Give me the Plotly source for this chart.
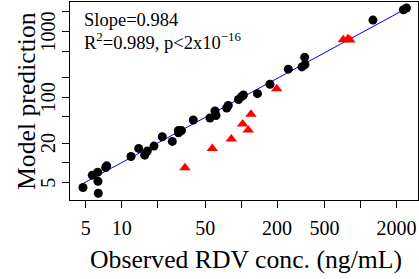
import numpy as np
import plotly.graph_objects as go

# Black circles (observed, predicted)
obs_black = [4.74, 5.67, 6.30, 6.33, 6.37, 7.35, 7.49, 11.97, 13.88, 15.58, 16.38, 18.64,
             21.88, 26.53, 29.79, 31.68, 29.91, 39.78, 54.9, 60.44, 61.6, 75.75, 78.1,
             95.1, 100.8, 104.7, 137.2, 174.6, 248.5, 323.6, 342.9, 341.0, 1272.5, 2292, 2428]
pred_black = [4.21, 6.49, 7.21, 5.25, 3.45, 8.51, 9.0, 12.52, 16.6, 13.11, 15.09, 17.99,
              24.95, 21.22, 31.0, 31.0, 28.7, 44.9, 48.1, 61.5, 52.6, 68.4, 74.7,
              92.2, 101.8, 108.0, 113.1, 157.4, 266.7, 289.0, 313.3, 403.7, 1493, 2145, 2277]

# Red triangles
obs_red = [33.9, 57.4, 82.8, 103.1, 114.9, 121.1, 198.7, 717.8, 786.0, 816.6]
pred_red = [8.45, 16.6, 23.0, 39.0, 31.6, 54.8, 134.9, 747, 774, 739]

# Regression line (log10 scale): slope and intercept
slope = 0.984
intercept = 0.02
line_x = [min(obs_black), max(obs_black)]
line_y = [10 ** (intercept + slope * np.log10(v)) for v in line_x]

x_tickvals = [5, 10, 20, 50, 100, 200, 500, 1000, 2000]
x_ticktext = ["5", "10", "", "50", "", "200", "500", "", "2000"]
y_tickvals = [5, 10, 20, 50, 100, 200, 500, 1000, 2000]
y_labelvals = [5, 20, 100, 1000]
y_labeltext = ["5", "20", "100", "1000"]

FONT = "Liberation Serif"

fig = go.Figure()
fig.add_trace(go.Scatter(x=line_x, y=line_y, mode="lines",
                         line=dict(color="#0000ff", width=1), showlegend=False))
fig.add_trace(go.Scatter(x=obs_black, y=pred_black, mode="markers",
                         marker=dict(color="black", size=9, symbol="circle"), showlegend=False))
fig.add_trace(go.Scatter(x=obs_red, y=pred_red, mode="markers",
                         marker=dict(color="#ff0000", size=10, symbol="triangle-up"), showlegend=False))

annotations = [
    dict(text="Observed RDV conc. (ng/mL)", xref="paper", yref="paper",
         x=(245.5 - 70) / 348, y=-(259 - 200) / 198, xanchor="center", yanchor="middle",
         showarrow=False, font=dict(size=25.7, family=FONT)),
    dict(text="Model prediction", xref="paper", yref="paper",
         x=-(70 - 26) / 348, y=(200 - 101) / 198, xanchor="center", yanchor="middle",
         textangle=-90, showarrow=False, font=dict(size=25.7, family=FONT)),
    dict(text="Slope=0.984", xref="paper", yref="paper",
         x=(82 - 70) / 348, y=(200 - 20) / 198, xanchor="left", yanchor="middle",
         showarrow=False, font=dict(size=18.5, family=FONT)),
    dict(text="R<sup>2</sup>=0.989, p<2x10<sup>\u221216</sup>", xref="paper", yref="paper",
         x=(82 - 70) / 348, y=(200 - 41) / 198, xanchor="left", yanchor="middle",
         showarrow=False, font=dict(size=18.5, family=FONT)),
]
for v, t in zip(y_labelvals, y_labeltext):
    annotations.append(dict(text=t, xref="paper", yref="y", x=(48 - 70) / 348, y=np.log10(v),
                            xanchor="center", yanchor="middle", textangle=-90,
                            showarrow=False, font=dict(size=20, family=FONT)))

fig.update_layout(
    width=419, height=279,
    margin=dict(l=70, r=1, t=2, b=79),
    paper_bgcolor="white", plot_bgcolor="white",
    font=dict(family=FONT, color="black", size=20),
    xaxis=dict(type="log", range=[np.log10(3.69), np.log10(3033)],
               tickvals=x_tickvals, ticktext=x_ticktext,
               ticks="outside", ticklen=7, tickcolor="black", tickwidth=1,
               showline=True, linecolor="black", linewidth=1, mirror=True,
               showgrid=False, zeroline=False,
               tickfont=dict(size=20, family=FONT), ticklabelstandoff=3),
    yaxis=dict(type="log", range=[np.log10(2.72), np.log10(2812)],
               tickvals=y_tickvals, showticklabels=False,
               ticks="outside", ticklen=7, tickcolor="black", tickwidth=1,
               showline=True, linecolor="black", linewidth=1, mirror=True,
               showgrid=False, zeroline=False),
    annotations=annotations,
)

fig.write_html("out.html", config={"displayModeBar": False},
               post_script="document.body.style.margin='0';document.body.style.overflow='hidden';")
